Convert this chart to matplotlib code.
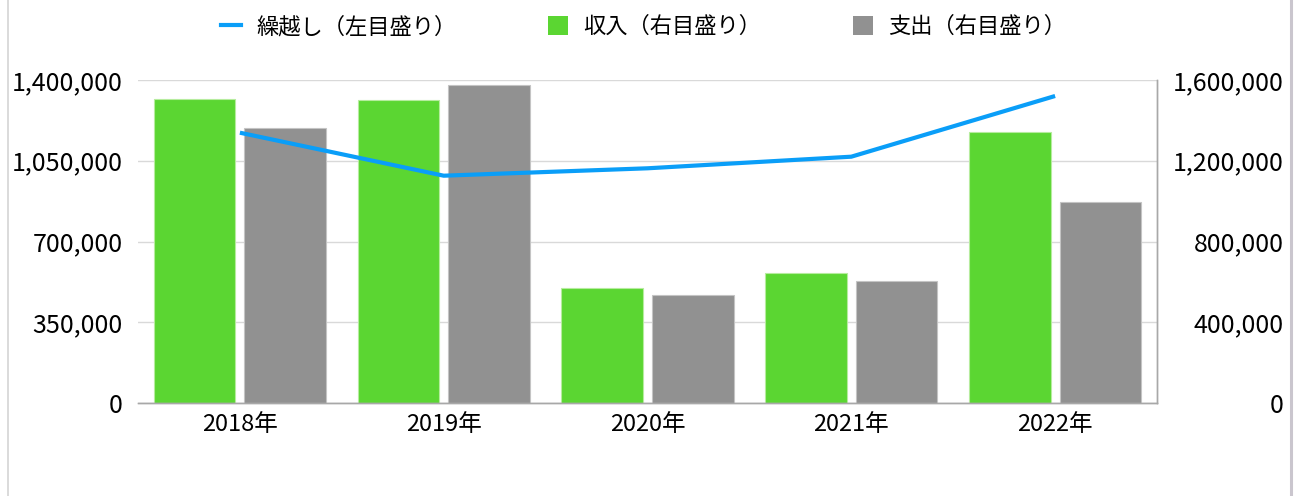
import matplotlib
matplotlib.use("Agg")
import matplotlib.pyplot as plt
from matplotlib.lines import Line2D
from matplotlib.patches import Patch
import numpy as np

plt.rcParams["font.family"] = ["Noto Sans CJK JP", "DejaVu Sans"]

years = ["2018年", "2019年", "2020年", "2021年", "2022年"]
carryover = [1171600, 985200, 1017300, 1067600, 1330700]
income = [1506000, 1502600, 568100, 645600, 1344000]
expense = [1360700, 1573600, 536600, 605900, 997300]

left_ticks = [0, 350000, 700000, 1050000, 1400000]
right_ticks = [0, 400000, 800000, 1200000, 1600000]

GREEN = "#5BD632"
GRAY = "#919191"
BLUE = "#0A9EF8"
GRID = "#d9d9d9"
SPINE = "#a8a8a8"

fig = plt.figure(figsize=(13, 4.96), dpi=100)
ax1 = fig.add_axes([138 / 1300, 1 - 403 / 496, (1157 - 138) / 1300, (403 - 80) / 496])
ax2 = ax1.twinx()

x = np.arange(len(years))
w = 0.40
off = 0.222

ax2.set_axisbelow(True)
ax2.bar(x - off, income, w, color=GREEN, edgecolor="#b6ec9e", linewidth=0.8, zorder=2)
ax2.bar(x + off, expense, w, color=GRAY, edgecolor="#c4c4c4", linewidth=0.8, zorder=2)
ax2.set_ylim(0, 1600000)
ax2.set_yticks(right_ticks)
ax2.set_yticklabels([f"{v:,}" for v in right_ticks], ha="right")
ax2.grid(True, axis="y", color=GRID, linewidth=1.0)
ax2.tick_params(axis="y", length=0, pad=91, labelsize=18)

ax1.plot(x, carryover, color=BLUE, linewidth=3.0, solid_capstyle="butt", zorder=3)
ax1.set_zorder(ax2.get_zorder() + 1)
ax1.patch.set_visible(False)
ax1.set_ylim(0, 1400000)
ax1.set_yticks(left_ticks)
ax1.set_yticklabels([f"{v:,}" for v in left_ticks])
ax1.tick_params(axis="y", length=0, pad=11, labelsize=18)
ax1.set_xlim(-0.5, len(years) - 0.5)
ax1.set_xticks(x)
ax1.set_xticklabels(years)
ax1.tick_params(axis="x", length=0, pad=7, labelsize=17)

for a in (ax1, ax2):
    for s in ("top", "left"):
        a.spines[s].set_visible(False)
    a.spines["bottom"].set_color(SPINE)
    a.spines["right"].set_color(SPINE)
    a.spines["bottom"].set_linewidth(1.0)
    a.spines["right"].set_linewidth(1.0)

handles = [
    Line2D([0], [0], color=BLUE, linewidth=3.0),
    Patch(facecolor=GREEN),
    Patch(facecolor=GRAY),
]
labels = ["繰越し（左目盛り）", "収入（右目盛り）", "支出（右目盛り）"]
fig.legend(handles, labels, loc="center", bbox_to_anchor=(0.495, 0.946), ncol=3,
           frameon=False, fontsize=16, handlelength=0.9, handleheight=0.9,
           handletextpad=0.7, columnspacing=4.1)

# outer frame lines
fig.add_artist(Line2D([8 / 1300, 8 / 1300], [0, 1], color="#d4d4d4", linewidth=1.2))
fig.add_artist(Line2D([1291 / 1300, 1291 / 1300], [0, 1], color="#cac6ce", linewidth=2.2))

fig.savefig("out.png", dpi=100, facecolor="white")
